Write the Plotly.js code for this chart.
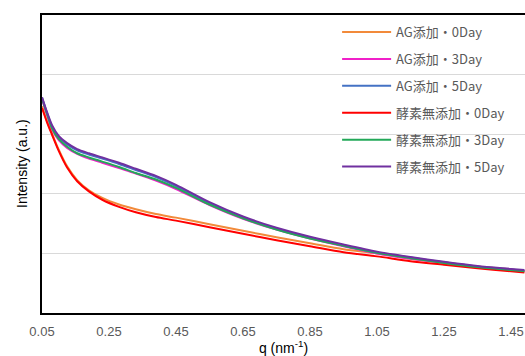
<!DOCTYPE html>
<html>
<head>
<meta charset="utf-8">
<script src="https://cdn.plot.ly/plotly-3.0.1.min.js"></script>
<style>html,body{margin:0;padding:0;background:#fff;}#chart{width:525px;height:356px;}</style>
</head>
<body>
<div id="chart"></div>
<script>
var q = [0.05,0.065,0.08,0.10,0.125,0.155,0.19,0.23,0.28,0.33,0.39,0.45,0.55,0.65,0.75,0.85,0.95,1.05,1.15,1.25,1.35,1.45,1.49];

var seriesNames = ["AG添加・0Day","AG添加・3Day","AG添加・5Day","酵素無添加・0Day","酵素無添加・3Day","酵素無添加・5Day"];

var ag0 = [3.47,3.22,3.01,2.74,2.46,2.23,2.06,1.93,1.82,1.74,1.66,1.60,1.49,1.38,1.27,1.17,1.07,1.00,0.91,0.85,0.78,0.73,0.70];
var ag3 = [3.59,3.32,3.08,2.90,2.77,2.67,2.59,2.52,2.43,2.34,2.22,2.08,1.81,1.58,1.40,1.25,1.12,1.00,0.91,0.84,0.77,0.72,0.70];
var ag5 = [3.62,3.36,3.13,2.95,2.83,2.73,2.66,2.59,2.50,2.40,2.28,2.13,1.84,1.60,1.41,1.26,1.13,1.01,0.93,0.85,0.78,0.73,0.71];
var en0 = [3.44,3.20,2.99,2.72,2.44,2.21,2.04,1.90,1.78,1.69,1.61,1.55,1.44,1.33,1.22,1.12,1.02,0.95,0.87,0.81,0.75,0.70,0.68];
var en3 = [3.60,3.34,3.10,2.92,2.79,2.68,2.61,2.54,2.45,2.35,2.24,2.10,1.82,1.59,1.40,1.25,1.13,1.01,0.92,0.84,0.77,0.72,0.70];
var en5 = [3.62,3.37,3.15,2.97,2.85,2.75,2.68,2.61,2.52,2.42,2.30,2.15,1.86,1.62,1.43,1.28,1.15,1.03,0.94,0.86,0.79,0.74,0.72];

var xTickVals = [0.05,0.25,0.45,0.65,0.85,1.05,1.25,1.45];
var xTickText = ["0.05","0.25","0.45","0.65","0.85","1.05","1.25","1.45"];

var values = [ag0, ag3, ag5, en0, en3, en5];
var colors = ["#F28A3A","#F020C8","#4472C4","#FF0000","#22A858","#7030A0"];

var traces = values.map(function(v, i){
  return {
    x: q, y: v, type: 'scatter', mode: 'lines', name: seriesNames[i],
    legendgroup: 'g' + i,
    line: {color: colors[i], width: 2, shape: 'spline', smoothing: 0.8}
  };
});

var layout = {
  width: 525, height: 356,
  margin: {l: 42, r: 0, t: 15, b: 43},
  paper_bgcolor: '#fff', plot_bgcolor: '#fff',
  font: {family: '"Noto Sans CJK JP", "Liberation Sans", Arial, sans-serif', color: '#595959'},
  showlegend: true,
  legend: {
    x: 0.611, y: 0.993, xanchor: 'left', yanchor: 'top',
    bgcolor: 'rgba(0,0,0,0)', borderwidth: 0,
    font: {size: 13, color: '#595959'},
    itemwidth: 49,
    tracegroupgap: 7
  },
  xaxis: {
    range: [0.05, 1.4918],
    tickmode: 'array', tickvals: xTickVals, ticktext: xTickText,
    ticks: 'outside', ticklen: 5, tickcolor: 'rgba(0,0,0,0)',
    showgrid: false, zeroline: false,
    showline: true, linecolor: '#000', linewidth: 2, mirror: true,
    tickfont: {size: 13, color: '#595959', family: '"Liberation Sans", Arial, sans-serif'},
    title: {text: 'q (nm<sup>-1</sup>)', font: {size: 14, color: '#000', family: '"Liberation Sans", Arial, sans-serif'}, standoff: 8}
  },
  yaxis: {
    range: [0, 5], dtick: 1, tick0: 0,
    showticklabels: false, ticks: '',
    showgrid: true, gridcolor: '#d9d9d9', gridwidth: 1,
    zeroline: false,
    showline: true, linecolor: '#000', linewidth: 2
  },
  annotations: [{
    text: 'Intensity (a.u.)', xref: 'paper', yref: 'paper',
    x: -0.0414, y: 0.5, xanchor: 'center', yanchor: 'middle',
    textangle: -90, showarrow: false,
    font: {size: 14, color: '#000', family: '"Liberation Sans", Arial, sans-serif'}
  }]
};

Plotly.newPlot('chart', traces, layout, {staticPlot: true, displayModeBar: false});
</script>
</body>
</html>
